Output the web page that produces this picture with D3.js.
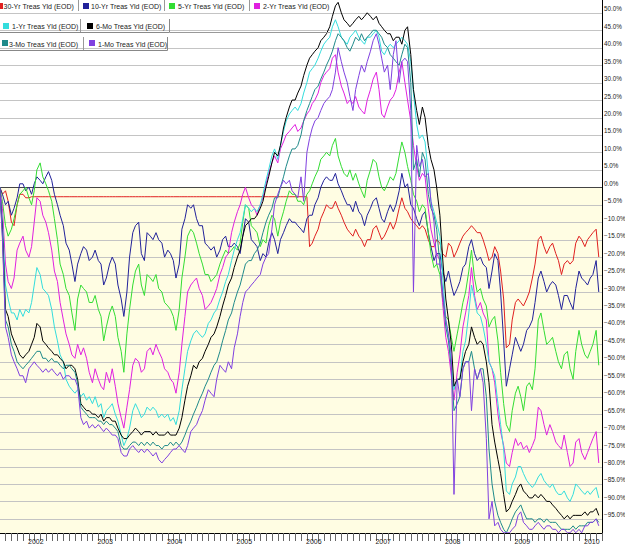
<!DOCTYPE html>
<html><head><meta charset="utf-8">
<script src="https://cdn.jsdelivr.net/npm/d3@7"></script>
<style>
body{margin:0;background:#fff;}
svg{display:block;font-family:"Liberation Sans",Arial,sans-serif;}
</style>
</head><body>
<svg id="chart" width="625" height="545"></svg>
<script>
// Semi-monthly sample grid (1st and 15th of each month), Aug 2001 .. Apr 2010
const nPoints = 210;
const dates = d3.range(nPoints).map(i => new Date(2001, 7 + Math.floor(i / 2), i % 2 ? 15 : 1));

const seriesNames = ["30-Yr Treas Yld (EOD)","10-Yr Treas Yld (EOD)","5-Yr Treas Yld (EOD)","2-Yr Treas Yld (EOD)",
                     "1-Yr Treas Yld (EOD)","6-Mo Treas Yld (EOD)","3-Mo Treas Yld (EOD)","1-Mo Treas Yld (EOD)"];
const seriesColors = ["#e02020","#22229a","#33dd33","#e020e0","#33dddd","#000000","#1f8a8a","#8040e0"];

// percent change values
const s30 = [1,1,0,-2,-1,-4,-10,-11,-5,-2,
 -2,-3,-3,-2.7,-2.7,-2.7,-2.7,-2.7,-2.7,-2.7,-2.7,-2.7,-2.7,-2.7,-2.7,-2.7,-2.7,-2.7,-2.7,-2.7,-2.7,-2.7,-2.7,-2.7,
 -2.7,-2.7,-2.7,-2.7,-2.7,-2.7,-2.7,-2.7,-2.7,-2.7,-2.7,-2.7,-2.7,-2.7,-2.7,-2.7,-2.7,-2.7,-2.7,-2.7,-2.7,-2.7,-2.7,-2.7,
 -2.7,-2.7,-2.7,-2.7,-2.7,-2.7,-2.7,-2.7,-2.7,-2.7,-2.7,-2.7,-2.7,-2.7,-2.7,-2.7,-2.7,-2.7,-2.7,-2.7,-2.7,-2.7,-2.7,-2.7,
 -2.7,-2.7,-2.7,-2.7,-2.7,-2.7,-2.7,-2.7,-2.7,-2.7,-2.7,-2.7,-2.7,-2.7,-2.7,-2.7,-2.7,-2.7,-2.7,-2.7,-2.7,-2.7,-2.7,-2.7,
 -2.7,-2.7,-2.7,-17,-16,-14,-12,-9,-7,-5,-6,-6,-4,-6,-8,-10,-12,-13,-14,-12,-14,-15,-17,-15,
 -15,-12,-11,-13,-15,-14,-12,-10,-12,-10,-6,-3,-6,-7,-9,-10,-11,-12,-11,-12,-15,-17,-17,-15,
 -16,-19,-20,-16,-17,-20,-18,-16,-14,-13,-12,-11,-12,-13,-13,-15,-18,-21,-20,-17,-19,-24,-32,-46,
 -45,-38,-33,-32,-33,-34,-32,-30,-26,-22,-15,-14,-17,-19,-17,-16,-19,-21,-25,-22,-21,-22,-21,-16,
 -14,-15,-17,-15,-14,-13,-12,-20];

const s10 = [2,1,0,-2,-5,-4,-8,-6,-3,1,
 1,-1,0,-2,1,3,2,1,3,4.5,2,-2,-5,-8,-11,-16,-18,-22,-27,-22,-19,-17,-18,-21,
 -20,-18,-21,-22,-28,-26,-22,-20,-22,-28,-32,-37,-30,-20,-13,-11,-10,-19,-21,-13,-14,-15,-13,-15,
 -16,-20,-18,-19,-21,-26,-22,-12,-9,-5,-6,-5,-9,-11,-11,-16,-17,-18,-17,-20,-18,-15,-14,-17,
 -17,-16,-17,-19,-14,-9,-10,-15,-16,-17,-21,-19,-20,-16,-13,-15,-19,-15,-13,-11,-9,-10,-10,-11,
 -12,-13,-9,-8,-8,-5,-3,0,2,3,2,2,4,1,-1,-3,-5,-5,-7,-4,-7,-8,-11,-8,
 -6,-4,-3,-6,-9,-10,-7,-5,-7,-5,-1,4,0,1,-5,-6,-9,-11,-8,-7,-13,-17,-21,-19,
 -19,-24,-27,-24,-28,-31,-29,-27,-23,-22,-17,-15,-19,-21,-20,-22,-23,-29,-24,-19,-21,-30,-44,-57,
 -52,-48,-43,-45,-47,-45,-41,-40,-38,-33,-26,-24,-27,-30,-28,-27,-28,-31,-35,-31,-31,-33,-35,-29,
 -24,-26,-27,-28,-26,-25,-21,-30];

const s5 = [1,1,0,-4,-11,-14,-12,-9,-5,-2,
 -1,0,-3,-5,-1,5,7,3,1,-1,-4,-9,-15,-22,-25,-29,-31,-36,-41,-32,-28,-29,-30,-33,
 -33,-31,-35,-37,-44,-40,-36,-34,-37,-43,-47,-53,-42,-35,-28,-24,-22,-28,-31,-25,-26,-27,-25,-29,
 -30,-33,-34,-35,-37,-41,-35,-26,-20,-14,-12,-13,-16,-19,-22,-25,-25,-27,-26,-25,-22,-20,-18,-19,
 -18,-17,-18,-16,-10,-5,-6,-11,-12,-13,-17,-15,-16,-11,-8,-9,-14,-10,-7,-4,-1,-2,-2,-4,
 -4,-5,-2,-1,1,3,5,8,9,10,9,12,14,9,6,4,3,5,2,4,1,-1,-3,2,
 5,8,7,3,0,-1,1,3,2,4,9,13,10,6,2,-2,-4,-7,-5,-6,-13,-19,-23,-22,
 -25,-32,-37,-38,-43,-47,-42,-38,-33,-30,-24,-18,-26,-30,-29,-32,-34,-40,-38,-37,-44,-53,-62,-68,
 -70,-64,-59,-57,-60,-64,-57,-56,-58,-52,-38,-36,-41,-45,-44,-43,-47,-50,-52,-48,-47,-52,-55,-47,
 -41,-45,-48,-49,-47,-45,-41,-51];

const s2 = [1,1,0,-6,-22,-27,-29,-26,-18,-16,
 -14,-18,-20,-17,-10,-3,-4,-8,-10,-13,-18,-24,-27,-33,-38,-42,-45,-48,-49,-45,-48,-46,-49,-53,
 -56,-52,-55,-57,-58,-53,-56,-52,-57,-62,-66,-69,-63,-58,-51,-49,-50,-53,-52,-47,-46,-48,-45,-47,
 -49,-52,-53,-55,-56,-59,-53,-45,-37,-30,-28,-27,-26,-29,-31,-35,-34,-33,-31,-29,-25,-23,-20,-19,
 -13,-10,-7,-5,-2,0,-3,-5,-6,-8,-5,-3,1,4,7,9,7,11,13,15,16,17,18,16,
 17,19,21,22,24,25,27,30,32,33,34,37,38,33,29,27,24,25,24,26,23,22,21,25,
 28,31,33,28,21,20,23,25,26,28,33,36,30,25,19,12,6,2,4,3,-6,-12,-16,-19,
 -21,-33,-43,-47,-54,-61,-53,-48,-40,-36,-31,-23,-31,-35,-33,-36,-38,-50,-52,-56,-65,-70,-74,-79,
 -80,-76,-72,-74,-73,-75,-74,-76,-74,-72,-63,-64,-68,-71,-68,-70,-73,-74,-75,-71,-76,-80,-79,-73,
 -72,-76,-78,-76,-74,-72,-70,-79];

const s1 = [1,0,0,-10,-28,-32,-36,-36,-38,-35,
 -37,-35,-36,-33,-28,-23,-25,-29,-30,-31,-35,-40,-44,-48,-50,-55,-57,-58,-59,-58,-60,-59,-61,-60,
 -62,-60,-63,-62,-66,-64,-63,-62,-65,-67,-71,-74,-72,-69,-64,-62,-64,-66,-65,-63,-64,-63,-64,-66,
 -65,-66,-65,-67,-66,-68,-64,-58,-52,-47,-44,-42,-41,-42,-43,-42,-39,-38,-36,-35,-32,-30,-27,-25,
 -21,-18,-15,-13,-9,-5,-6,-7,-6,-7,-5,-2,2,5,9,11,8,12,16,19,21,22,23,22,
 24,27,30,33,34,35,37,39,41,42,43,46,48,46,43,42,41,43,44,45,43,42,41,43,
 43,44,45,43,39,38,40,41,40,41,42,43,42,41,36,27,18,14,15,13,4,-4,-7,-10,
 -14,-25,-38,-43,-50,-58,-55,-55,-47,-44,-36,-28,-32,-36,-37,-40,-45,-50,-52,-54,-62,-68,-75,-87,
 -88,-85,-83,-80,-80,-82,-84,-85,-86,-85,-83,-82,-84,-85,-86,-85,-87,-88,-88,-87,-89,-90,-88,-85,
 -86,-87,-88,-87,-88,-87,-86,-89];

const s6m = [1,0,0,-12,-35,-37,-42,-44,-46,-48,
 -49,-48,-47,-45,-43,-39,-40,-44,-45,-46,-47,-48,-48,-49,-50,-52,-51,-51,-52,-55,-62,-63,-64,-64,
 -65,-65,-66,-65,-67,-66,-66,-67,-67,-69,-71,-72,-72,-71,-70,-69,-70,-71,-70,-70,-70,-71,-70,-71,
 -71,-71,-70,-71,-71,-71,-69,-66,-61,-57,-54,-51,-52,-50,-49,-47,-45,-43,-42,-40,-37,-34,-31,-28,
 -26,-23,-20,-18,-14,-11,-10,-9,-9,-8,-6,-4,0,3,7,10,9,12,17,20,23,25,25,27,
 29,32,35,37,38,39,40,42,43,44,46,49,52,53,50,48,47,46,47,48,49,48,49,50,
 49,48,49,47,46,45,44,44,42,43,43,41,45,46,38,28,22,18,23,20,12,8,5,0,
 -8,-20,-32,-38,-45,-57,-55,-55,-50,-47,-45,-40,-43,-45,-44,-45,-50,-56,-68,-73,-78,-82,-88,-93,
 -92,-90,-88,-86,-85,-87,-88,-89,-89,-88,-89,-88,-89,-90,-90,-91,-92,-93,-94,-95,-94,-95,-94,-94,
 -94,-94,-93,-94,-93,-93,-92,-94];

const s3m = [1,0,0,-14,-38,-40,-45,-47,-50,-51,
 -52,-51,-50,-49,-48,-47,-47,-49,-49,-50,-49,-50,-50,-51,-52,-51,-51,-52,-53,-56,-63,-64,-65,-66,
 -66,-66,-67,-67,-68,-67,-68,-68,-69,-70,-74,-75,-75,-74,-73,-73,-74,-73,-74,-73,-74,-73,-74,-74,
 -75,-74,-74,-73,-74,-73,-74,-73,-71,-69,-67,-65,-63,-61,-59,-57,-55,-53,-51,-50,-47,-44,-41,-38,
 -36,-33,-30,-28,-25,-22,-21,-21,-19,-18,-16,-13,-10,-8,-6,-3,-3,0,3,6,9,11,11,12,
 15,19,22,24,26,28,29,31,33,35,37,39,42,44,43,42,40,39,41,43,42,44,42,43,
 44,45,45,44,43,41,40,38,37,36,35,38,41,40,30,5,8,3,10,8,-2,-6,-8,-12,
 -22,-30,-40,-44,-52,-64,-62,-60,-52,-50,-50,-47,-52,-55,-52,-52,-60,-75,-85,-90,-94,-96,-98,-99,
 -97,-95,-93,-92,-91,-93,-95,-95,-95,-96,-95,-95,-96,-95,-96,-96,-96,-97,-98,-98,-98,-98,-97,-98,
 -97,-97,-97,-96,-96,-96,-95,-96];

const s1m = [1,0,0,-15,-40,-43,-48,-50,-52,-54,
 -54,-56,-52,-51,-50,-51,-52,-53,-52,-53,-52,-53,-54,-53,-55,-54,-54,-55,-55,-57,-66,-68,-67,-69,
 -68,-69,-68,-69,-70,-69,-70,-71,-71,-72,-76,-77,-77,-75,-74,-75,-76,-75,-76,-75,-76,-77,-76,-78,
 -79,-78,-77,-76,-75,-75,-74,-75,-76,-74,-70,-69,-68,-66,-64,-61,-58,-59,-60,-55,-51,-52,-53,-50,
 -52,-46,-42,-37,-33,-30,-29,-28,-27,-26,-25,-22,-20,-19,-12,-5,-2,0,2,1,2,-1,-2,-3,
 3,-4,10,14,17,19,20,22,24,25,26,28,33,40,36,33,30,26,22,28,32,35,33,36,
 39,42,44,41,37,33,35,28,38,42,30,36,37,36,22,-30,12,6,8,3,4,-4,-10,-22,
 -22,-30,-38,-42,-48,-88,-55,-60,-52,-50,-50,-64,-52,-55,-52,-56,-72,-95,-90,-97,-96,-98,-99,-99,
 -99,-98,-97,-94,-93,-96,-97,-98,-98,-97,-96,-97,-98,-97,-97,-98,-98,-99,-98,-98,-99,-99,-98,-99,
 -98,-99,-97,-97,-96,-96,-95,-97];

const yTickValues = d3.range(50, -96, -5);
const yearLabels = ["2002","2003","2004","2005","2006","2007","2008","2009","2010"];

const allSeries = [s30, s10, s5, s2, s1, s6m, s3m, s1m];
allSeries.forEach((s, k) => { if (s.length !== nPoints) console.error("length mismatch", seriesNames[k], s.length); });

// ---------- drawing ----------
const svg = d3.select("#chart");
const plotL = 0, plotR = 602, plotT = 0, plotB = 533;

const x = d3.scaleTime().domain([new Date(2002, 0, 1), new Date(2010, 0, 1)]).range([23, 579]);
const y = d3.scaleLinear().domain([-95, 50]).range([518.85, 12.8]);

svg.append("rect").attr("width", 625).attr("height", 545).attr("fill", "#fff");
svg.append("rect").attr("x", plotL).attr("y", y(0)).attr("width", plotR - plotL)
  .attr("height", plotB - y(0)).attr("fill", "#fffde3");

const defs = svg.append("defs");
defs.append("clipPath").attr("id", "plotclip").append("rect")
  .attr("x", plotL).attr("y", plotT).attr("width", plotR - plotL).attr("height", plotB - plotT);

// gridlines
const grid = svg.append("g");
yTickValues.forEach(v => {
  const yy = Math.round(y(v)) + 0.5;
  grid.append("line").attr("x1", plotL).attr("x2", plotR).attr("y1", yy).attr("y2", yy)
    .attr("stroke", v === 0 ? "#444" : "#c4c4c4").attr("stroke-width", 1);
});

// series lines
const line = d3.line().x((d, i) => x(dates[i])).y(d => y(d));
const lines = svg.append("g").attr("clip-path", "url(#plotclip)");
allSeries.forEach((s, k) => {
  lines.append("path").datum(s).attr("d", line).attr("fill", "none")
    .attr("stroke", seriesColors[k]).attr("stroke-width", 1).attr("stroke-linejoin", "round");
});

// right axis
svg.append("line").attr("x1", plotR + 0.5).attr("x2", plotR + 0.5).attr("y1", 0).attr("y2", plotB)
  .attr("stroke", "#000");
const yLab = svg.append("g").attr("font-size", "6.3px").attr("fill", "#222");
yTickValues.forEach(v => {
  yLab.append("text").attr("x", 604).attr("y", y(v) - 1.5).text(d3.format(".1f")(v) + "%");
});

// bottom axis
svg.append("line").attr("x1", 0).attr("x2", plotR + 1).attr("y1", plotB + 0.5).attr("y2", plotB + 0.5)
  .attr("stroke", "#000");
const months = d3.timeMonth.range(new Date(2001, 8, 1), new Date(2010, 5, 1)).filter(d => x(d) >= 0 && x(d) <= plotR);
const xAxisG = svg.append("g");
months.forEach(d => {
  const xx = Math.round(x(d)) + 0.5;
  xAxisG.append("line").attr("x1", xx).attr("x2", xx).attr("y1", plotB).attr("y2", plotB + 8)
    .attr("stroke", "#666");
});
yearLabels.forEach(lbl => {
  const d = new Date(+lbl, 0, 1);
  xAxisG.append("text").attr("x", x(d) + 5).attr("y", 544).attr("font-size", "7px").attr("fill", "#222").text(lbl);
});

// legend
const leg = svg.append("g").attr("font-size", "7px").attr("fill", "#222");
const row1 = [{k:0, sx:-3, tx:3.5}, {k:1, sx:83, tx:91}, {k:2, sx:169, tx:178}, {k:3, sx:254, tx:263}];
const row1Seps = [78, 164, 249];
row1.forEach(r => {
  leg.append("rect").attr("x", r.sx).attr("y", 3).attr("width", 6).attr("height", 6).attr("fill", seriesColors[r.k]);
  leg.append("text").attr("x", r.tx).attr("y", 9).text(seriesNames[r.k]);
});
row1Seps.forEach(sx => leg.append("line").attr("x1", sx + 0.5).attr("x2", sx + 0.5).attr("y1", 0).attr("y2", 11).attr("stroke", "#999"));

// row 2 box
leg.append("path").attr("d", "M169.5,19 V32.5 H0").attr("fill", "none").attr("stroke", "#888");
leg.append("line").attr("x1", 170).attr("x2", 330).attr("y1", 32.5).attr("y2", 32.5).attr("stroke", "#999");
leg.append("line").attr("x1", 80.5).attr("x2", 80.5).attr("y1", 19).attr("y2", 32).attr("stroke", "#999");
[{k:4, sx:3, tx:12}, {k:5, sx:87, tx:96}].forEach(r => {
  leg.append("rect").attr("x", r.sx).attr("y", 23).attr("width", 6).attr("height", 6).attr("fill", seriesColors[r.k]);
  leg.append("text").attr("x", r.tx).attr("y", 29).text(seriesNames[r.k]);
});
// row 3 box
leg.append("path").attr("d", "M167.5,37 V50.5 H0").attr("fill", "none").attr("stroke", "#888");
leg.append("line").attr("x1", 83.5).attr("x2", 83.5).attr("y1", 37).attr("y2", 50).attr("stroke", "#999");
[{k:6, sx:2, tx:9}, {k:7, sx:89, tx:98}].forEach(r => {
  leg.append("rect").attr("x", r.sx).attr("y", 40).attr("width", 6).attr("height", 6).attr("fill", seriesColors[r.k]);
  leg.append("text").attr("x", r.tx).attr("y", 46.5).text(seriesNames[r.k]);
});
</script>
</body></html>
